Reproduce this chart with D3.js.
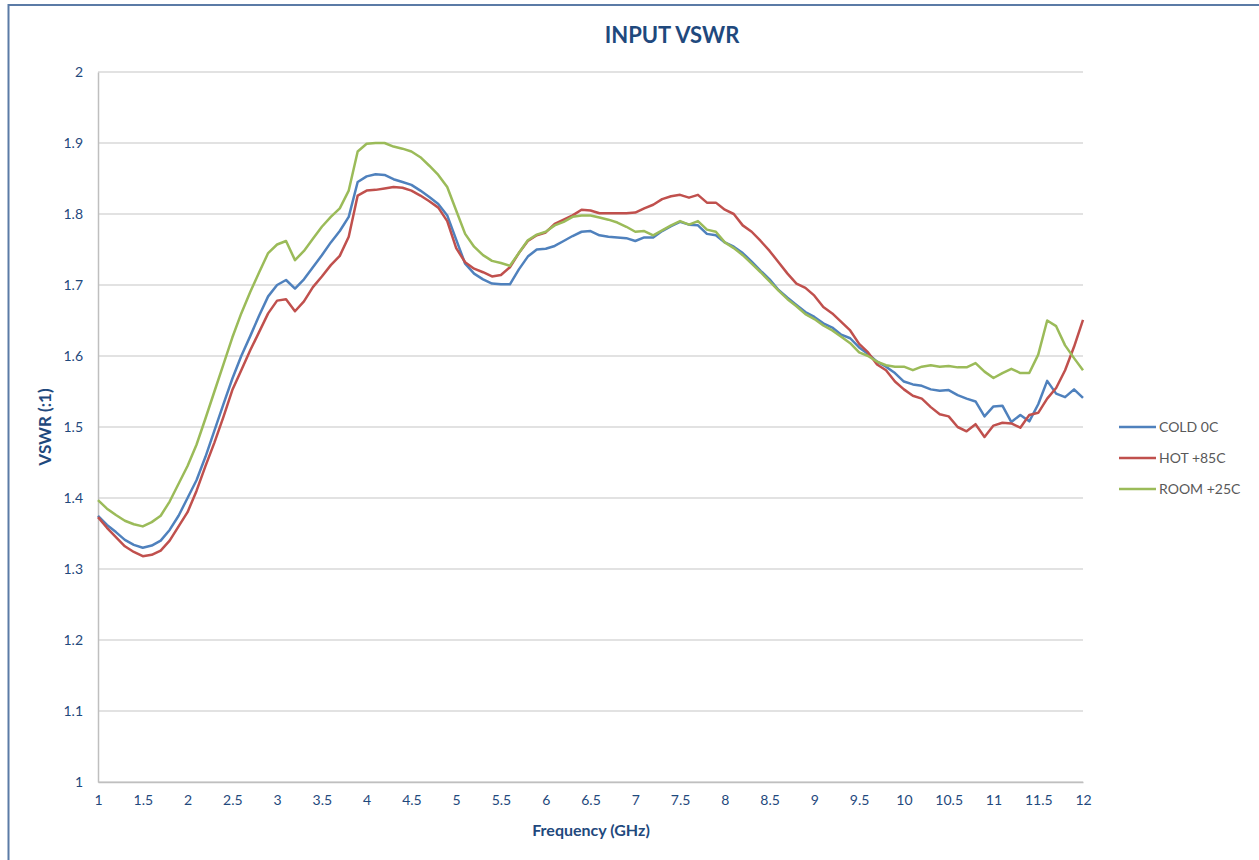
<!DOCTYPE html>
<html>
<head>
<meta charset="utf-8">
<script src="https://cdn.jsdelivr.net/npm/d3@7"></script>
<style>
  body { margin: 0; background: #fff; }
  text { font-family: Lato, "Open Sans", sans-serif; }
</style>
</head>
<body>
<div id="chart"></div>
<script>
// frequency grid (GHz), one reading every 0.1 GHz
const freqs = d3.range(0, 111).map(i => +(1 + i * 0.1).toFixed(1))

const cold = [
  1.375, 1.362, 1.352, 1.341, 1.334, 1.330, 1.333, 1.340, 1.355, 1.375,
  1.400, 1.425, 1.458, 1.495, 1.532, 1.568, 1.600, 1.628, 1.657, 1.684,
  1.700, 1.707, 1.695, 1.708, 1.725, 1.742, 1.760, 1.776, 1.796, 1.845,
  1.853, 1.856, 1.855, 1.849, 1.845, 1.841, 1.833, 1.824, 1.814, 1.798,
  1.764, 1.730, 1.716, 1.708, 1.702, 1.701, 1.701, 1.722, 1.740, 1.750,
  1.751, 1.755, 1.762, 1.769, 1.775, 1.776, 1.770, 1.768, 1.767, 1.766,
  1.762, 1.767, 1.767, 1.776, 1.783, 1.789, 1.785, 1.784, 1.772, 1.770,
  1.760, 1.754, 1.745, 1.733, 1.720, 1.708, 1.693, 1.682, 1.672, 1.662,
  1.655, 1.646, 1.640, 1.630, 1.625, 1.612, 1.603, 1.592, 1.585, 1.576,
  1.564, 1.560, 1.558, 1.553, 1.551, 1.552, 1.545, 1.540, 1.536, 1.515,
  1.529, 1.530, 1.507, 1.517, 1.508, 1.532, 1.565, 1.547, 1.542, 1.553,
  1.541
]
const hot = [
  1.373, 1.358, 1.345, 1.332, 1.324, 1.318, 1.320, 1.326, 1.340, 1.360,
  1.380, 1.410, 1.445, 1.478, 1.514, 1.552, 1.580, 1.608, 1.634, 1.660,
  1.678, 1.680, 1.663, 1.677, 1.697, 1.712, 1.728, 1.741, 1.768, 1.826,
  1.833, 1.834, 1.836, 1.838, 1.837, 1.833, 1.826, 1.818, 1.809, 1.790,
  1.752, 1.732, 1.723, 1.718, 1.712, 1.714, 1.725, 1.745, 1.762, 1.770,
  1.774, 1.786, 1.792, 1.798, 1.806, 1.805, 1.801, 1.801, 1.801, 1.801,
  1.802, 1.808, 1.813, 1.821, 1.825, 1.827, 1.823, 1.827, 1.816, 1.816,
  1.806, 1.800, 1.784, 1.775, 1.762, 1.748, 1.732, 1.716, 1.702, 1.696,
  1.685, 1.669, 1.660, 1.648, 1.636, 1.617, 1.605, 1.588, 1.580, 1.564,
  1.553, 1.544, 1.540, 1.528, 1.518, 1.515, 1.500, 1.494, 1.504, 1.486,
  1.502, 1.506, 1.505, 1.499, 1.517, 1.520, 1.540, 1.555, 1.580, 1.613,
  1.651
]
const room = [
  1.397, 1.385, 1.376, 1.368, 1.363, 1.360, 1.366, 1.375, 1.395, 1.420,
  1.445, 1.475, 1.512, 1.550, 1.588, 1.626, 1.660, 1.690, 1.718, 1.745,
  1.757, 1.762, 1.735, 1.748, 1.765, 1.782, 1.796, 1.808, 1.833, 1.888,
  1.899, 1.900, 1.900, 1.895, 1.892, 1.888, 1.880, 1.868, 1.855, 1.838,
  1.805, 1.772, 1.754, 1.742, 1.734, 1.731, 1.727, 1.745, 1.763, 1.771,
  1.775, 1.784, 1.789, 1.796, 1.798, 1.798, 1.795, 1.792, 1.788, 1.782,
  1.775, 1.776, 1.770, 1.777, 1.784, 1.790, 1.785, 1.790, 1.778, 1.775,
  1.760, 1.752, 1.742, 1.730, 1.718, 1.705, 1.692, 1.680, 1.670, 1.659,
  1.652, 1.643, 1.636, 1.627, 1.618, 1.605, 1.600, 1.592, 1.587, 1.585,
  1.585, 1.580, 1.585, 1.587, 1.585, 1.586, 1.584, 1.584, 1.590, 1.578,
  1.569, 1.576, 1.582, 1.576, 1.576, 1.602, 1.650, 1.642, 1.615, 1.597,
  1.580
]

const seriesNames = ["COLD 0C", "HOT +85C", "ROOM +25C"]
const seriesColors = ["#4f81bd", "#c0504d", "#9bbb59"]
const xTicks = d3.range(1, 12.01, 0.5)
const yTicks = d3.range(0, 11).map(i => 1 + i * 0.1)

const W = 1259, H = 860
const plot = { left: 98, right: 1083, top: 72, bottom: 782 }
const textBlue = "#1f497d"

const svg = d3.select("#chart")
    .append("svg")
    .attr("width", W)
    .attr("height", H)

// outer chart frame
svg.append("rect")
    .attr("x", 8.5).attr("y", 5)
    .attr("width", W + 10).attr("height", H + 10)
    .attr("fill", "none")
    .attr("stroke", "#5b7ba6")
    .attr("stroke-width", 2)

const x = d3.scaleLinear().domain([1, 12]).range([plot.left, plot.right])
const y = d3.scaleLinear().domain([1, 2]).range([plot.bottom, plot.top])

// horizontal gridlines
svg.append("g")
    .selectAll("line")
    .data(yTicks)
    .join("line")
    .attr("x1", plot.left).attr("x2", plot.right)
    .attr("y1", d => y(d)).attr("y2", d => y(d))
    .attr("stroke", "#d9d9d9")
    .attr("stroke-width", 1.5)

// y axis
const yAxis = svg.append("g")
    .attr("transform", `translate(${plot.left},0)`)
    .call(d3.axisLeft(y).tickValues(yTicks).tickFormat(d3.format(".1~f")).tickSize(0).tickPadding(15))
yAxis.select(".domain").attr("stroke", "#bfbfbf").attr("stroke-width", 1.5)
yAxis.selectAll("text").attr("fill", textBlue).style("font-size", "14px")

// x axis
const xAxis = svg.append("g")
    .attr("transform", `translate(0,${plot.bottom})`)
    .call(d3.axisBottom(x).tickValues(xTicks).tickFormat(d3.format("~g")).tickSize(0).tickPadding(13))
xAxis.select(".domain").attr("stroke", "#bfbfbf").attr("stroke-width", 1.5)
xAxis.selectAll("text").attr("fill", textBlue).style("font-size", "14px")

// lines
const line = d3.line()
    .x((d, i) => x(freqs[i]))
    .y(d => y(d))

const allSeries = [cold, hot, room]
svg.append("g")
    .selectAll("path")
    .data(allSeries)
    .join("path")
    .attr("d", d => line(d))
    .attr("fill", "none")
    .attr("stroke", (d, i) => seriesColors[i])
    .attr("stroke-width", 2.5)
    .attr("stroke-linejoin", "round")

// titles
svg.append("text")
    .attr("x", 672).attr("y", 43)
    .attr("text-anchor", "middle")
    .attr("fill", textBlue)
    .style("font-size", "22px")
    .style("font-weight", "bold")
    .text("INPUT VSWR")

svg.append("text")
    .attr("x", 591).attr("y", 836)
    .attr("text-anchor", "middle")
    .attr("fill", textBlue)
    .style("font-size", "16px")
    .style("font-weight", "bold")
    .text("Frequency (GHz)")

svg.append("text")
    .attr("transform", `translate(51,${(plot.top + plot.bottom) / 2}) rotate(-90)`)
    .attr("text-anchor", "middle")
    .attr("fill", textBlue)
    .style("font-size", "17px")
    .style("font-weight", "bold")
    .text("VSWR (:1)")

// legend
const legend = svg.append("g")
    .selectAll("g")
    .data(seriesNames)
    .join("g")
    .attr("transform", (d, i) => `translate(1119,${427 + i * 31})`)
legend.append("line")
    .attr("x1", 0).attr("x2", 37)
    .attr("stroke", (d, i) => seriesColors[i])
    .attr("stroke-width", 2.5)
legend.append("text")
    .attr("x", 40).attr("dy", "0.35em")
    .attr("fill", "#595959")
    .style("font-size", "14px")
    .text(d => d)
</script>
</body>
</html>
